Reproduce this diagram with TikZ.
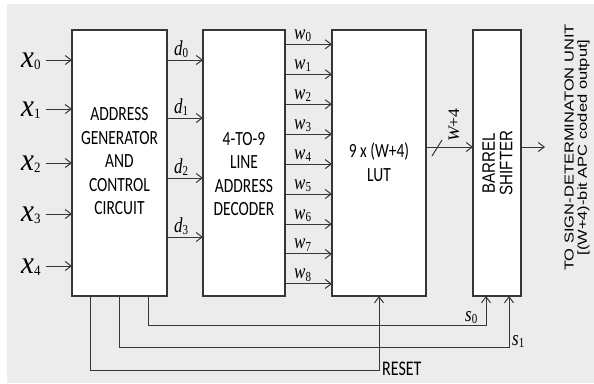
\documentclass[tikz,border=0pt]{standalone}
\usepackage{fontspec}
\usepackage{graphicx}
\newfontfamily\calfont{Carlito}
\newfontfamily\arfont{Liberation Sans}
\newfontfamily\timfont{Liberation Serif}
\usetikzlibrary{arrows.meta,calc}
\definecolor{lc}{HTML}{363636}
\definecolor{bg}{HTML}{ECECEC}
\newcommand\vst[1]{\scalebox{1}[1.3]{#1}}
% #1 letter, #2 subscript, #3 size, #4 subscript size, #5 lowering, #6 vertical stretch
\newcommand\sym[6]{\scalebox{1}[#6]{\timfont\fontsize{#3}{#3}\selectfont\itshape #1\raisebox{#5}{\upshape\fontsize{#4}{#4}\selectfont #2}}}
\begin{document}
\begin{tikzpicture}[x=1pt,y=-1pt,
  ln/.style={draw=lc, line width=1pt},
  arr/.style={ln, -{Straight Barb[length=6pt,width=9pt]}},
  blk/.style={draw=lc, line width=1.2pt, fill=white, inner sep=0pt, outer sep=0pt},
  btxt/.style={font=\calfont\fontsize{15.5}{18}\selectfont, inner sep=0pt, text=black},
  lbl/.style={inner sep=0pt, text=black}]
\useasboundingbox (0,0) rectangle (594,383);
\fill[bg] (7,4) rectangle (594,383);

% blocks
\node[blk, minimum width=95pt, minimum height=266pt] (A) at (119.5,163) {};
\node[blk, minimum width=82pt, minimum height=266pt] (B) at (244,163) {};
\node[blk, minimum width=94pt, minimum height=266pt] (C) at (379,163) {};
\node[blk, minimum width=48pt, minimum height=266pt] (D) at (497,163) {};

% block texts
\node[btxt] (At) at (119.5,163) {\vst{\begin{tabular}{@{}c@{}}ADDRESS\\GENERATOR\\AND\\CONTROL\\CIRCUIT\end{tabular}}};
\node[btxt] (Bt) at (244,176) {\vst{\begin{tabular}{@{}c@{}}4-TO-9\\LINE\\ADDRESS\\DECODER\end{tabular}}};
\node[btxt] (Ct) at (379,165) {\vst{\begin{tabular}{@{}c@{}}9 x (W+4)\\LUT\end{tabular}}};
\node[lbl, rotate=90, font=\arfont\fontsize{18}{17}\selectfont] (Dt) at (500,163) {\scalebox{0.84}[1]{\begin{tabular}{@{}c@{}}BARREL\\SHIFTER\end{tabular}}};

% inputs
\foreach \i/\y in {0/60,1/109,2/163,3/214,4/266}{
  \coordinate (x\i) at (46,\y);
  \draw[arr] (x\i) -- (x\i -| A.west);
  \node[lbl, anchor=base west] (xl\i) at (21,\y+7.5) {\sym{x}{\i}{29}{13}{-0.07em}{1.1}};
}

% d outputs
\foreach \i/\y in {0/60,1/118,2/178,3/237}{
  \draw[arr] (A.east |- 0,\y) -- (B.west |- 0,\y);
  \node[lbl, anchor=base west] (dl\i) at (174,\y-5) {\sym{d}{\i}{17}{11}{-0.12em}{1.25}};
}

% w outputs
\foreach \i in {0,...,8}{
  \pgfmathsetmacro\yy{44.3+\i*29.95}
  \draw[arr] (B.east |- 0,\yy) -- (C.west |- 0,\yy);
  \node[lbl, anchor=base west] (wl\i) at (294,\yy-5) {\sym{w}{\i}{17}{11}{-0.12em}{1.25}};
}

% LUT to barrel shifter
\draw[arr] (C.east |- 0,147) -- (D.west |- 0,147);
\draw[ln] (432,156) -- (442,140);
\node[lbl, rotate=90, font=\timfont\fontsize{16}{16}\selectfont] (wp4) at (454,125) {\scalebox{1.1}[1]{\itshape W\upshape+4}};

% output
\coordinate (out) at (545,147);
\draw[arr] (D.east |- 0,147) -- (out);
\node[lbl, rotate=90, font=\arfont\fontsize{13}{12.5}\selectfont] (outt) at (577.5,147.5) {\scalebox{1.27}[1]{\begin{tabular}{@{}c@{}}TO SIGN-DETERMINATON UNIT\\{[}(W+4)-bit APC coded output]\end{tabular}}};

% control lines
\coordinate (s0c) at (486,325);
\coordinate (s1c) at (509,347);
\coordinate (rc) at (379,370);
\draw[arr] (A.south -| 148,0) |- (s0c) -- (s0c |- D.south);
\draw[arr] (A.south -| 119,0) |- (s1c) -- (s1c |- D.south);
\draw[arr] (A.south -| 90,0) |- (rc) -- (rc |- C.south);

\node[lbl, anchor=base west] (s0l) at (465,321) {\sym{s}{0}{17}{11}{-0.12em}{1.25}};
\node[lbl, anchor=base west] (s1l) at (512,345) {\sym{s}{1}{17}{11}{-0.12em}{1.25}};
\node[lbl, anchor=base west, font=\calfont\fontsize{16}{16}\selectfont] (rl) at (382,375) {\vst{RESET}};
\end{tikzpicture}
\end{document}
